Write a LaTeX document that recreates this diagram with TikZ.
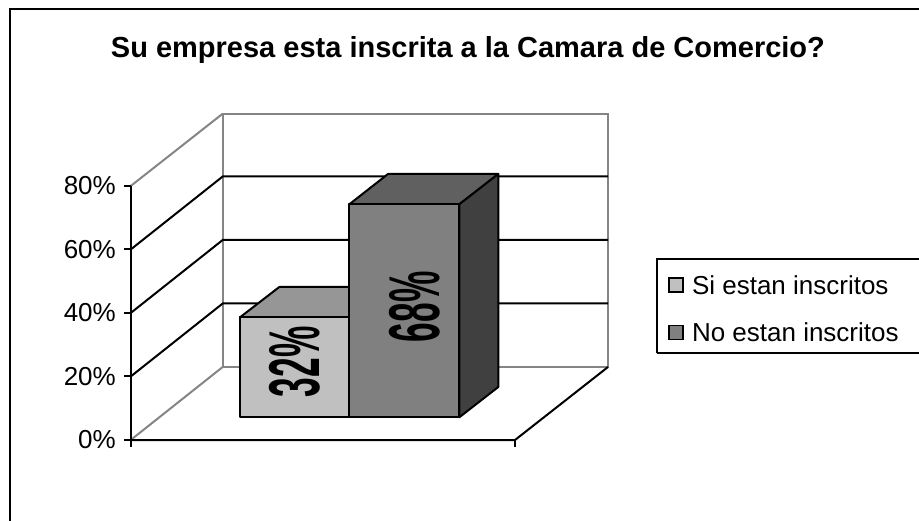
\documentclass[tikz,border=0pt]{standalone}
\usepackage{fontspec}
\setmainfont{Liberation Sans}
\usepackage{graphicx}
\usepackage{xcolor}
\usepackage{tikz}
\usetikzlibrary{positioning}

\definecolor{barlight}{HTML}{C0C0C0}
\definecolor{barlighttop}{HTML}{969696}
\definecolor{bardark}{HTML}{808080}
\definecolor{bardarktop}{HTML}{606060}
\definecolor{bardarkside}{HTML}{404040}
\definecolor{wallgray}{HTML}{858585}

\begin{document}
\begin{tikzpicture}[x=1pt,y=-1pt]
	\tikzstyle{wall}
	  =[draw=wallgray, line width=2pt]
	\tikzstyle{grid}
	  =[draw=black, line width=2pt]
	\tikzstyle{face}
	  =[draw=black, line width=2pt, line join=round]
	\tikzstyle{axlabel}
	  =[inner sep=0pt, font=\fontsize{26}{26}\selectfont]
	\tikzstyle{pct}
	  =[rotate=90, inner sep=0pt, font=\fontsize{72}{72}\selectfont\bfseries]
	\tikzstyle{key}
	  =[draw, line width=1.6pt, minimum size=14pt, inner sep=0pt]
	\tikzstyle{keytext}
	  =[inner sep=0pt, font=\fontsize{26}{26}\selectfont]

	\useasboundingbox (0,0) rectangle (919,521);
	\draw[line width=2pt] (9.5,540) rectangle (940,9.5);

	\node[font=\fontsize{29}{29}\selectfont\bfseries, anchor=base] (title)
	  at (468,57.5) {Su empresa esta inscrita a la Camara de Comercio?};

	% walls and floor
	\coordinate (f0) at (130.7,440);
	\coordinate (f80) at (130.7,186);
	\coordinate (b0) at (222.7,367);
	\coordinate (b80) at (222.7,113.7);
	\coordinate (fr) at (515,440);
	\coordinate (br) at (608,367);
	\draw[wall] (b80) rectangle (br);
	\draw[wall] (f0) -- (b0);
	\draw[wall] (f80) -- (b80);
	\draw[grid] (130.7,376.5) -- (222.7,303.5) -- (608,303.5);
	\draw[grid] (130.7,313) -- (222.7,240) -- (608,240);
	\draw[grid] (130.7,249.5) -- (222.7,176.5) -- (608,176.5);
	\draw[grid] (f0) -- (fr) -- (br);
	\draw[grid] (fr) -- (515,446.5);

	% value axis
	\coordinate (t0) at (124,440);
	\coordinate (t20) at (124,376.5);
	\coordinate (t40) at (124,313);
	\coordinate (t60) at (124,249.5);
	\coordinate (t80) at (124,186);
	\draw[grid] (f80) -- (130.7,446.5);
	\draw[grid] (t0) -- (f0);
	\draw[grid] (t20) -- (130.7,376.5);
	\draw[grid] (t40) -- (130.7,313);
	\draw[grid] (t60) -- (130.7,249.5);
	\draw[grid] (t80) -- (f80);
	\node[axlabel] (l0) [left=8pt of t0] {0\%};
	\node[axlabel] (l20) [left=8pt of t20] {20\%};
	\node[axlabel] (l40) [left=8pt of t40] {40\%};
	\node[axlabel] (l60) [left=8pt of t60] {60\%};
	\node[axlabel] (l80) [left=8pt of t80] {80\%};

	% bars
	\filldraw[face, fill=barlighttop] (240,317.3) -- (279.3,287) -- (388.5,287) -- (349.3,317.3) -- cycle;
	\filldraw[face, fill=barlight] (240,317.3) rectangle (349.3,417.3);
	\filldraw[face, fill=bardarktop] (349.3,204.3) -- (388,174) -- (498.3,174) -- (459.3,204.3) -- cycle;
	\filldraw[face, fill=bardarkside] (459.3,204.3) -- (498.3,174) -- (498.3,387) -- (459.3,417.3) -- cycle;
	\filldraw[face, fill=bardark] (349.3,204.3) rectangle (459.3,417.3);
	\node[pct] (si) at (294.5,361.7) {\scalebox{0.49}[1]{32\%}};
	\node[pct] (no) at (414.3,306.7) {\scalebox{0.49}[1]{68\%}};

	% legend
	\draw[line width=2pt] (657.3,353.3) -- (657.3,259) -- (940,259)
	  (657.3,353.3) -- (940,353.3);
	\node[key, fill=barlight] (k1) at (676,285) {};
	\node[key, fill=bardark] (k2) [below=32pt of k1] {};
	\node[keytext] (k1t) [right=8pt of k1] {Si estan inscritos};
	\node[keytext] (k2t) [right=8pt of k2] {No estan inscritos};
    \end{tikzpicture}
\end{document}
